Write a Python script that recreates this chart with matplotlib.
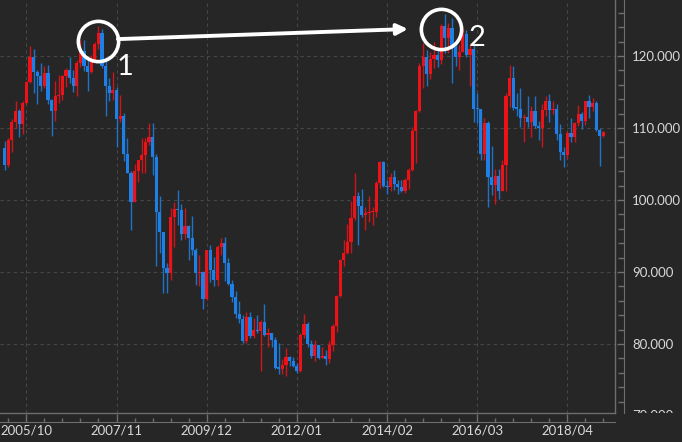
import numpy as np
import matplotlib
matplotlib.use("Agg")
import matplotlib.pyplot as plt
from matplotlib.ticker import MultipleLocator, FormatStrFormatter
from matplotlib.transforms import blended_transform_factory, offset_copy

plt.rcParams['font.family'] = ['Lato', 'DejaVu Sans']

# Monthly USD/JPY candles, 2005/04 .. 2019/02 (bar index 0 = 2005/10)
first_idx = -6
opn = [
    107.2, 104.8, 108.4, 110.9, 112.4, 110.6, 113.5, 116.4, 119.8,
    117.8, 117.2, 115.8, 117.7, 113.9, 112.4, 114.4, 114.6, 117.2, 118.1, 116.9, 115.8,
    119.0, 120.7, 118.6, 117.8, 119.5, 121.7, 123.2, 118.6, 115.8, 114.8, 115.3, 111.2,
    111.7, 106.4, 103.7, 99.7, 104.0, 105.5, 106.2, 108.1, 108.8, 106.0, 98.4, 95.5,
    90.6, 89.9, 97.6, 98.8, 98.6, 95.3, 96.4, 94.7, 93.0, 89.8, 90.0, 86.3,
    93.0, 90.3, 88.9, 93.5, 94.0, 91.3, 88.4, 86.5, 84.2, 83.5, 80.4, 83.7,
    81.1, 82.0, 81.8, 83.1, 81.2, 81.5, 80.5, 76.7, 76.6, 77.1, 78.2, 77.6,
    76.9, 76.2, 81.2, 82.8, 80.0, 78.3, 79.8, 78.1, 78.4, 77.9, 79.8, 82.5,
    86.7, 91.7, 92.6, 94.2, 97.5, 100.5, 99.2, 97.9, 98.2, 98.3, 98.4, 102.4,
    105.3, 102.0, 101.8, 103.2, 102.2, 101.8, 101.3, 102.8, 104.1, 109.6, 112.3, 118.6,
    119.8, 117.5, 119.6, 120.1, 119.4, 124.1, 122.5, 123.9, 121.2, 119.9, 120.6, 123.1,
    120.2, 121.0, 112.7, 112.6, 106.4, 110.7, 103.2, 102.1, 103.4, 101.3, 104.8, 114.5,
    116.9, 112.8, 112.7, 111.4, 111.5, 110.8, 112.4, 110.3, 110.0, 112.5, 113.7, 112.5,
    112.7, 109.2, 106.7, 106.3, 109.3, 108.8, 110.7, 111.9, 111.0, 113.7, 112.9, 113.5,
    109.7, 108.9,
]
high = [
    108.2, 108.6, 111.2, 113.7, 112.6, 113.8, 116.5, 121.4, 121.0,
    118.0, 119.0, 118.6, 118.7, 114.0, 116.5, 117.4, 117.4, 118.3, 119.9, 118.0, 119.4,
    122.2, 122.2, 119.9, 120.1, 122.0, 124.1, 123.7, 119.8, 117.0, 117.8, 115.7, 114.6,
    112.1, 108.6, 104.0, 105.0, 105.6, 108.6, 108.6, 110.7, 110.7, 106.4, 100.5, 95.6,
    91.3, 98.9, 99.7, 101.4, 99.5, 98.9, 96.5, 97.8, 93.4, 92.3, 90.2, 93.0,
    93.8, 92.1, 93.8, 94.7, 94.9, 92.0, 88.9, 87.3, 86.0, 84.1, 84.4, 84.5,
    83.6, 84.0, 83.3, 85.5, 82.2, 81.6, 81.0, 80.2, 77.9, 79.5, 78.3, 78.2,
    77.3, 81.6, 84.2, 83.0, 80.6, 80.6, 79.9, 79.6, 79.2, 80.4, 82.8, 86.8,
    91.8, 94.5, 96.7, 99.9, 103.7, 101.1, 101.5, 99.1, 100.6, 99.0, 102.6, 105.4,
    105.4, 102.8, 103.8, 104.1, 102.8, 102.8, 103.1, 104.5, 110.1, 112.5, 119.0, 121.8,
    120.8, 120.5, 122.0, 120.8, 124.5, 125.9, 124.6, 125.3, 121.7, 121.5, 123.8, 123.6,
    121.7, 121.7, 114.9, 112.7, 111.4, 111.0, 107.5, 104.3, 104.3, 105.5, 114.8, 118.7,
    118.6, 114.9, 115.5, 111.9, 114.4, 113.0, 114.5, 111.0, 113.3, 114.4, 114.7, 113.8,
    113.4, 110.5, 107.3, 109.6, 111.4, 110.9, 113.2, 112.2, 113.8, 114.6, 114.2, 113.7,
    110.0, 109.6,
]
low = [
    104.2, 104.6, 106.6, 110.0, 108.7, 109.2, 113.3, 116.2, 114.8,
    113.4, 115.2, 115.5, 113.4, 108.9, 111.0, 113.5, 113.9, 115.7, 116.2, 115.0, 114.4,
    118.5, 117.9, 115.2, 117.6, 119.1, 121.0, 118.4, 111.6, 113.8, 113.9, 107.3, 110.9,
    105.4, 103.7, 95.8, 99.7, 102.5, 103.8, 103.8, 107.6, 103.5, 90.9, 92.6, 87.1,
    87.1, 88.9, 93.5, 96.5, 94.4, 94.6, 91.7, 92.4, 88.2, 88.0, 84.8, 86.1,
    88.6, 88.1, 88.1, 92.4, 88.8, 88.2, 85.9, 83.6, 82.9, 80.2, 80.2, 80.9,
    80.9, 81.5, 76.3, 81.1, 79.6, 79.6, 76.6, 75.9, 75.9, 75.6, 76.9, 76.8,
    76.0, 76.1, 80.9, 79.6, 78.0, 77.7, 77.9, 78.0, 77.1, 77.4, 79.1, 81.7,
    86.5, 90.9, 92.5, 92.6, 97.2, 93.8, 97.6, 95.8, 97.0, 96.6, 97.6, 101.6,
    101.8, 100.8, 101.2, 101.4, 100.8, 101.1, 101.0, 101.5, 104.0, 105.2, 112.2, 115.6,
    115.8, 116.8, 118.3, 118.5, 118.9, 120.4, 120.4, 116.2, 118.6, 118.1, 120.5, 119.9,
    115.9, 110.9, 110.7, 105.6, 105.5, 99.0, 100.7, 99.5, 100.1, 101.2, 101.2, 112.9,
    112.5, 111.6, 110.1, 108.1, 110.2, 108.8, 110.0, 108.3, 107.3, 111.7, 110.8, 111.9,
    108.3, 105.6, 104.6, 105.7, 108.1, 108.1, 110.3, 109.8, 110.4, 111.4, 112.3, 109.6,
    104.7, 108.7,
]
close = [
    104.8, 108.4, 110.9, 112.4, 110.6, 113.5, 116.4, 119.8, 117.8,
    117.2, 115.8, 117.7, 113.9, 112.4, 114.4, 114.6, 117.2, 118.1, 116.9, 115.8, 119.0,
    120.7, 118.6, 117.8, 119.5, 121.7, 123.2, 118.6, 115.8, 114.8, 115.3, 111.2, 111.7,
    106.4, 103.7, 99.7, 104.0, 105.5, 106.2, 108.1, 108.8, 106.0, 98.4, 95.5, 90.6,
    89.9, 97.6, 98.8, 98.6, 95.3, 96.4, 94.7, 93.0, 89.8, 90.0, 86.3, 93.0,
    90.3, 88.9, 93.5, 94.0, 91.3, 88.4, 86.5, 84.2, 83.5, 80.4, 83.7, 81.1,
    82.0, 81.8, 83.1, 81.2, 81.5, 80.5, 76.7, 76.6, 77.1, 78.2, 77.6, 76.9,
    76.2, 81.2, 82.8, 80.0, 78.3, 79.8, 78.1, 78.4, 77.9, 79.8, 82.5, 86.7,
    91.7, 92.6, 94.2, 97.5, 100.5, 99.2, 97.9, 98.2, 98.3, 98.4, 102.4, 105.3,
    102.0, 101.8, 103.2, 102.2, 101.8, 101.3, 102.8, 104.1, 109.6, 112.3, 118.6, 119.8,
    117.5, 119.6, 120.1, 119.4, 124.1, 122.5, 123.9, 121.2, 119.9, 120.6, 123.1, 120.2,
    121.0, 112.7, 112.6, 106.4, 110.7, 103.2, 102.1, 103.4, 101.3, 104.8, 114.5, 116.9,
    112.8, 112.7, 111.4, 111.5, 110.8, 112.4, 110.3, 110.0, 112.5, 113.7, 112.5, 112.7,
    109.2, 106.7, 106.3, 109.3, 108.8, 110.7, 111.9, 111.0, 113.7, 112.9, 113.5, 109.7,
    108.9, 109.4,
]

tick_labels = ['2005/10', '2007/11', '2009/12', '2012/01', '2014/02', '2016/03', '2018/04']

# annotation points (bar index, price)
peak1 = (19.9, 122.1)
peak2 = (114.9, 123.75)
arrow_from = (25.4, 122.35)
arrow_to = (105.8, 123.75)
label1 = (27.4, 118.5)
label2 = (125.0, 122.5)

bg = '#262626'
red = '#ec1218'
blue = '#1e80e6'
axis_col = '#6e6e6e'
text_col = '#d8d8d8'

W, H = 682, 442
fig = plt.figure(figsize=(W / 100, H / 100), dpi=100, facecolor=bg)

# main price panel
ax = fig.add_axes([0, 29 / H, 615 / W, 413 / H])
ax.set_facecolor(bg)
xlim = (-7.3, 163.2)
ylim = (70.42, 127.78)
ax.set_xlim(xlim)
ax.set_ylim(ylim)

o = np.array(opn)
h = np.array(high)
l = np.array(low)
c = np.array(close)
x = np.arange(len(c)) + first_idx
cols = np.where(c >= o, red, blue)

ax.vlines(x, l, h, colors=cols, lw=1.0, alpha=0.85, zorder=2)
body = np.maximum(np.abs(c - o), 0.15)
ax.bar(x, body, bottom=np.minimum(o, c), width=0.88, color=cols, linewidth=0, zorder=3)

ax.set_xticks(np.arange(0, 151, 25))
ax.set_yticks(np.arange(80, 121, 10))
ax.grid(True, color='#474747', ls=(0, (3, 3)), lw=0.8, zorder=0)
ax.tick_params(length=0, labelbottom=False, labelleft=False)
for s in ['top', 'left']:
    ax.spines[s].set_visible(False)
for s in ['right', 'bottom']:
    ax.spines[s].set_color(axis_col)
    ax.spines[s].set_linewidth(1.0)

# circles, arrow and numbers
for p in (peak1, peak2):
    ax.plot(*p, 'o', ms=29, mfc='none', mec='white', mew=2.6, zorder=5, clip_on=False)
ax.annotate('', xy=arrow_to, xytext=arrow_from,
            arrowprops=dict(arrowstyle='-|>', color='white', lw=2.8,
                            mutation_scale=16, shrinkA=0, shrinkB=0), zorder=5)
ax.text(*label1, '1', color='white', fontsize=21, ha='center', va='center', zorder=5)
ax.text(*label2, '2', color='white', fontsize=21, ha='center', va='center', zorder=5)

# date strip below
axb = fig.add_axes([0, 20 / H, 615 / W, 9 / H])
axb.set_facecolor('none')
axb.set_xlim(xlim)
axb.set_yticks([])
for s in ['top', 'left', 'right']:
    axb.spines[s].set_visible(False)
axb.spines['bottom'].set_color(axis_col)
axb.xaxis.set_minor_locator(MultipleLocator(5))
axb.set_xticks(np.arange(0, 151, 25), tick_labels)
axb.tick_params(axis='x', which='major', direction='in', length=6, width=1,
                color=axis_col, labelsize=9.5, labelcolor=text_col, pad=2)
axb.tick_params(axis='x', which='minor', direction='in', length=3, width=1, color=axis_col)

# price axis on the right
axr = fig.add_axes([615 / W, 29 / H, 9 / W, 413 / H])
axr.set_facecolor('none')
axr.set_ylim(ylim)
axr.set_xticks([])
for s in ['top', 'left', 'bottom']:
    axr.spines[s].set_visible(False)
axr.spines['right'].set_color(axis_col)
axr.yaxis.tick_right()
axr.yaxis.set_major_locator(MultipleLocator(10))
axr.yaxis.set_minor_locator(MultipleLocator(2))
axr.yaxis.set_major_formatter(FormatStrFormatter('%.3f'))
axr.tick_params(axis='y', which='major', direction='in', length=5, width=1,
                color=axis_col, labelsize=9.5, labelcolor=text_col, pad=6)
axr.tick_params(axis='y', which='minor', direction='in', length=4, width=1, color=axis_col)

# half-hidden 70.000 label at the bottom edge
tr = offset_copy(blended_transform_factory(axr.transAxes, axr.transData), fig=fig,
                 x=6, y=0, units='points')
t70 = axr.text(1, 70, '70.000', transform=tr, color=text_col, fontsize=9.5, va='center', ha='left')
t70.set_clip_on(True)
t70.set_clip_path(plt.Rectangle((615 / W, 29 / H), 1, 1, transform=fig.transFigure))

fig.savefig('out.png', dpi=100, facecolor=bg)
